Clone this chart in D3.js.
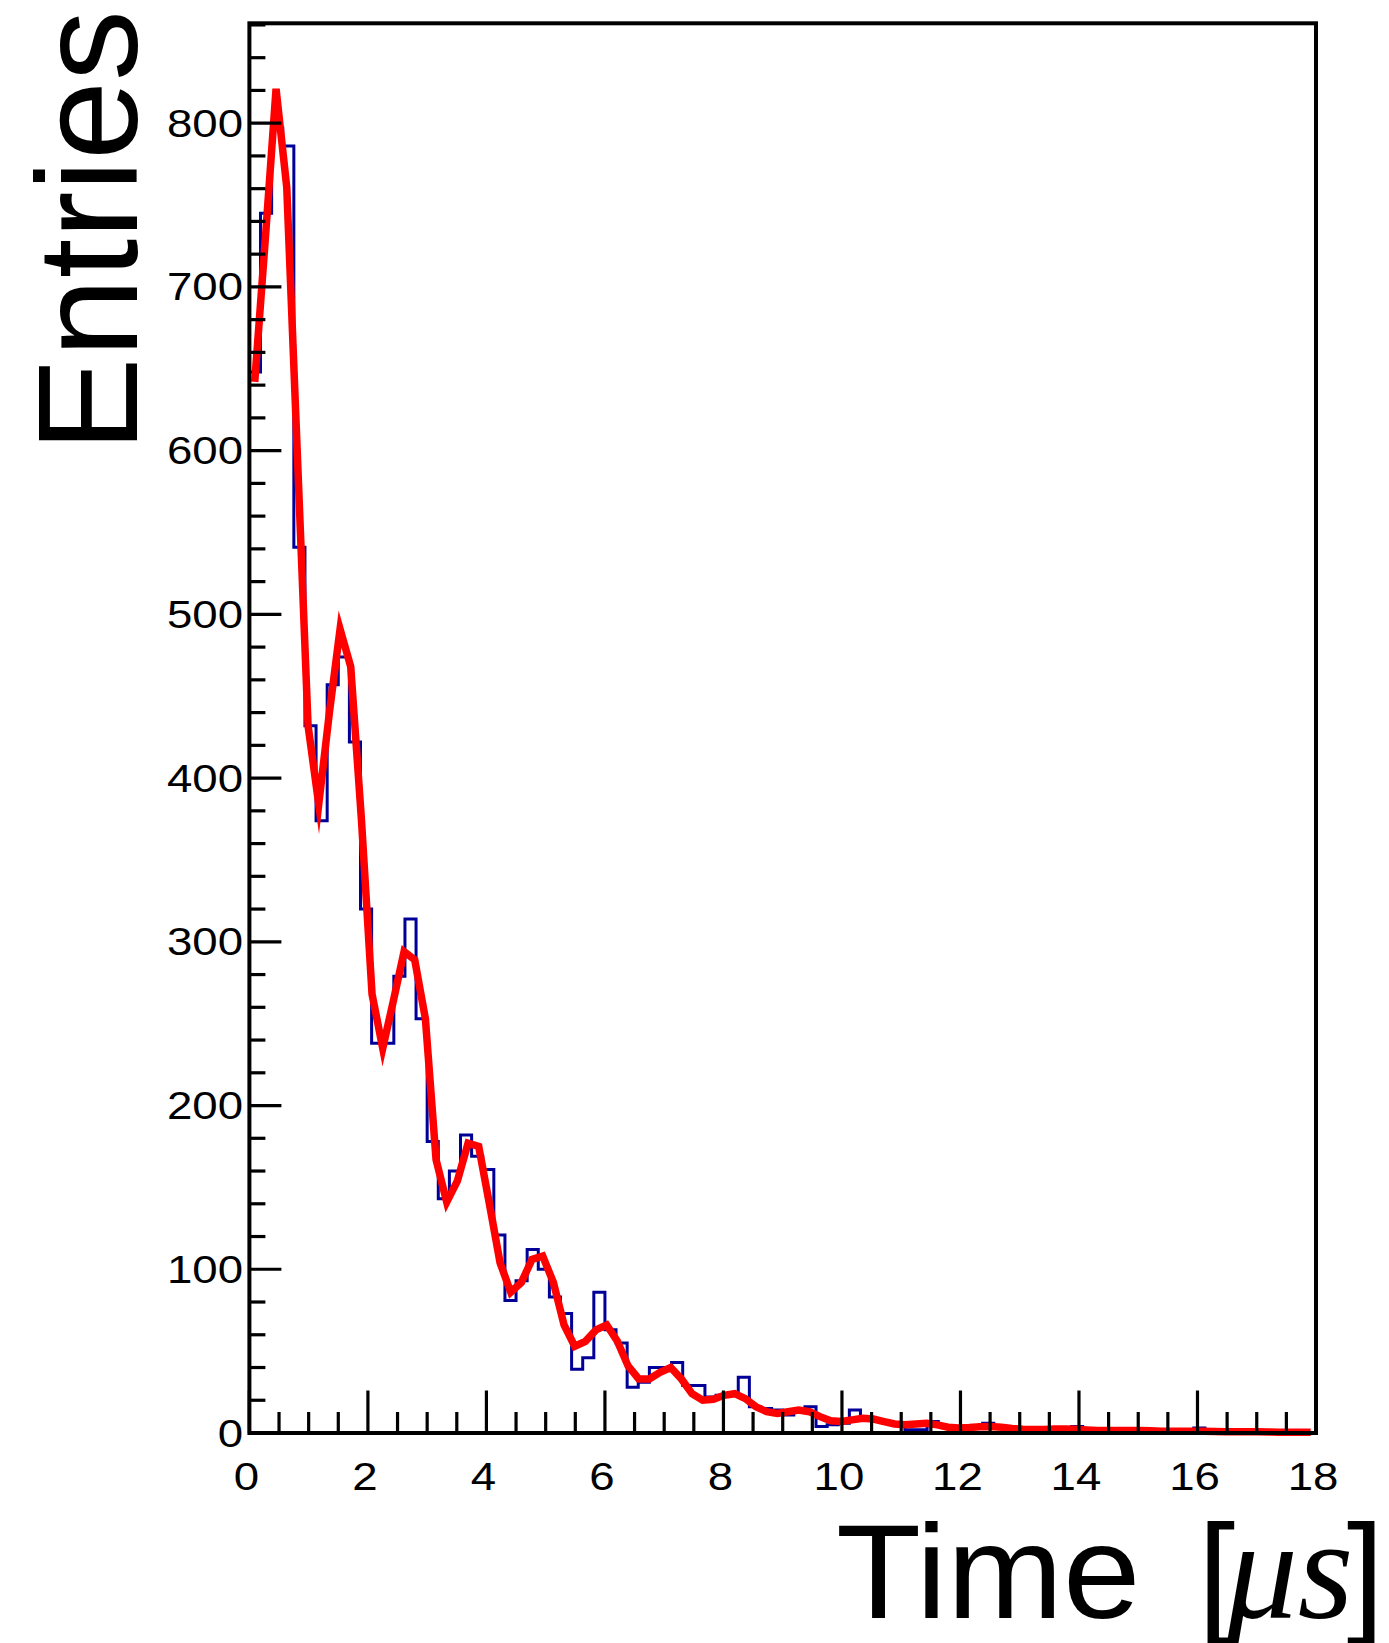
<!DOCTYPE html>
<html>
<head>
<meta charset="utf-8">
<script src="https://cdn.jsdelivr.net/npm/d3@7"></script>
<style>
  html, body { margin: 0; padding: 0; background: #fff; }
  svg { display: block; }
</style>
</head>
<body>
<svg id="chart" width="1389" height="1643"></svg>
<script>
// Histogram of decay times: 96 bins over 0–18 µs
const timeRange = [0, 18];
const counts = [
  648, 745, 797, 786, 541, 432, 374, 457, 474, 422,
  320, 238, 238, 279, 314, 253, 178, 143, 160, 182,
  169, 161, 121, 81, 93, 112, 100, 83, 73, 39,
  46, 86, 63, 55, 28, 31, 40, 40, 43, 29,
  29, 22, 23, 24, 34, 16, 15, 14, 11, 13,
  16, 4, 5, 6, 14, 10, 8, 6, 5, 2,
  2, 7, 4, 2, 3, 4, 6, 4, 3, 2,
  3, 2, 2, 3, 4, 2, 1, 2, 2, 1,
  1, 2, 1, 1, 1, 3, 1, 1, 0, 1,
  1, 0, 1, 0, 1, 0
];

// Fitted curve, sampled every 0.18 µs starting at 0.09 µs
const fitStart = 0.09;
const fitStep = 0.18;
const fitValues = [
  642, 730, 821, 761, 597, 432, 384, 440, 491, 468,
  375, 268, 235, 264, 294, 289, 253, 167, 141, 154,
  177, 175, 140, 104, 86, 92, 106, 108, 92, 66,
  53, 56, 63, 66, 56, 41, 33, 33, 37, 40,
  33, 24, 20, 20.6, 23, 24, 21, 16, 13, 12,
  13, 14, 13, 10, 7.5, 7, 8, 9, 8.5, 7,
  5.5, 5, 5.5, 6, 5, 3.5, 3, 3.3, 3.8, 4,
  3.5, 2.8, 2.3, 2.1, 2.2, 2.4, 2.5, 2.3, 1.9, 1.6,
  1.5, 1.5, 1.6, 1.5, 1.3, 1.1, 1.0, 1.0, 1.1, 1.0,
  0.9, 0.8, 0.7, 0.7, 0.7, 0.6, 0.5, 0.5, 0.4, 0.4
];

// Axis ticks and labels
const xTickLabels = [0, 2, 4, 6, 8, 10, 12, 14, 16, 18];
const yTickLabels = [0, 100, 200, 300, 400, 500, 600, 700, 800];
const yRange = [0, 861];

const yTitle = "Entries";
const xTitleWord = "Time";
const xTitleUnit = "\u03BCs";

// Frame geometry
const frame = { left: 249.4, right: 1316, top: 23.3, bottom: 1433 };

const svg = d3.select("#chart");
const x = d3.scaleLinear().domain(timeRange).range([frame.left, frame.right]);
const y = d3.scaleLinear().domain(yRange).range([frame.bottom, frame.top]);

// Histogram outline (step)
const binW = (timeRange[1] - timeRange[0]) / counts.length;
const histPts = counts.map((c, i) => [timeRange[0] + i * binW, c]);
histPts.push([timeRange[1], counts[counts.length - 1]]);

const plot = svg.append("g");
plot.append("path")
  .attr("d", d3.line().x(d => x(d[0])).y(d => y(d[1])).curve(d3.curveStepAfter)(histPts))
  .attr("fill", "none")
  .attr("stroke", "#000099")
  .attr("stroke-width", 3);

// Fitted curve
const fitPts = fitValues.map((v, i) => [fitStart + i * fitStep, v]);
plot.append("path")
  .attr("d", d3.line().x(d => x(d[0])).y(d => y(d[1]))(fitPts))
  .attr("fill", "none")
  .attr("stroke", "#ff0000")
  .attr("stroke-width", 7.5)
  .attr("stroke-linejoin", "miter")
  .attr("stroke-miterlimit", 10);

// Frame
svg.append("rect")
  .attr("x", frame.left).attr("y", frame.top)
  .attr("width", frame.right - frame.left).attr("height", frame.bottom - frame.top)
  .attr("fill", "none").attr("stroke", "#000").attr("stroke-width", 4);

// X axis ticks: major every 2, minor every 0.5
const xMajorLen = 42.5, xMinorLen = 21;
const xMinor = d3.range(0, 36 + 1).map(i => i * 0.5);
svg.append("g").selectAll("line").data(xMinor).join("line")
  .attr("x1", d => x(d)).attr("x2", d => x(d))
  .attr("y1", frame.bottom)
  .attr("y2", d => frame.bottom - (Math.abs(d / 2 - Math.round(d / 2)) < 1e-9 ? xMajorLen : xMinorLen))
  .attr("stroke", "#000").attr("stroke-width", 3.2);

// Y axis ticks: major every 100, minor every 20
const yMajorLen = 32, yMinorLen = 16;
const yMinor = d3.range(0, 44).map(i => i * 20).filter(v => v <= yRange[1]);
svg.append("g").selectAll("line").data(yMinor).join("line")
  .attr("x1", frame.left)
  .attr("x2", d => frame.left + (d % 100 === 0 ? yMajorLen : yMinorLen))
  .attr("y1", d => y(d)).attr("y2", d => y(d))
  .attr("stroke", "#000").attr("stroke-width", 3.2);

// Tick labels
const labelFont = "'Liberation Sans', Arial, Helvetica, sans-serif";
const serifFont = "'Liberation Serif', 'Times New Roman', serif";
const labelSize = 38;
const labelStretch = 1.2;

svg.append("g").selectAll("text").data(xTickLabels).join("text")
  .attr("transform", d => `translate(${x(d) - 3},${1490}) scale(${labelStretch},1)`)
  .attr("text-anchor", "middle")
  .attr("font-family", labelFont)
  .attr("font-size", labelSize)
  .text(d => d);

svg.append("g").selectAll("text").data(yTickLabels).join("text")
  .attr("transform", d => `translate(${243},${y(d) + 13.5}) scale(${labelStretch},1)`)
  .attr("text-anchor", "end")
  .attr("font-family", labelFont)
  .attr("font-size", labelSize)
  .text(d => d);

// Y axis title
svg.append("text")
  .attr("transform", `translate(137,10) rotate(-90)`)
  .attr("text-anchor", "end")
  .attr("font-family", labelFont)
  .attr("font-size", 142)
  .text(yTitle);

// X axis title: "Time [µs]" with the unit in math italic
const xtBase = 1618;
svg.append("text")
  .attr("transform", `translate(836,${xtBase}) scale(1.04,1)`)
  .attr("font-family", labelFont)
  .attr("font-size", 134)
  .text(xTitleWord);
svg.append("text")
  .attr("x", 1198).attr("y", xtBase)
  .attr("font-family", labelFont)
  .attr("font-size", 134)
  .text("[");
svg.append("text")
  .attr("x", 1226).attr("y", xtBase)
  .attr("font-family", serifFont)
  .attr("font-style", "italic")
  .attr("font-size", 143)
  .text(xTitleUnit);
svg.append("text")
  .attr("x", 1384).attr("y", xtBase)
  .attr("text-anchor", "end")
  .attr("font-family", labelFont)
  .attr("font-size", 134)
  .text("]");
</script>
</body>
</html>
